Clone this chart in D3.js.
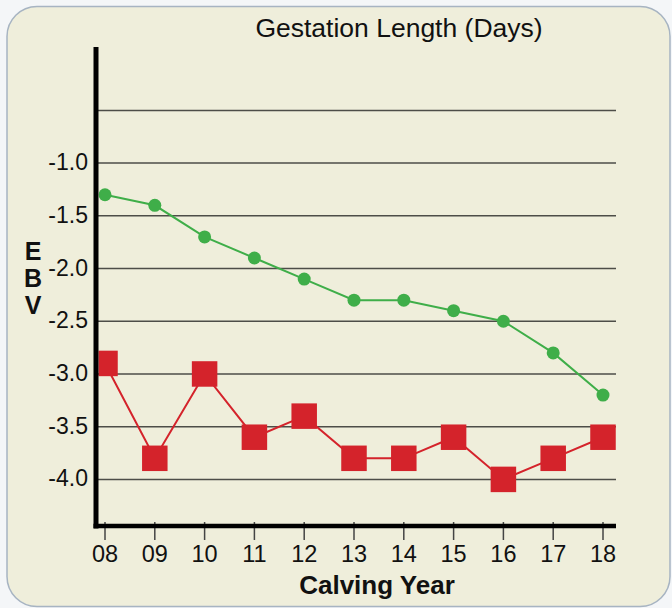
<!DOCTYPE html>
<html>
<head>
<meta charset="utf-8">
<script src="https://d3js.org/d3.v7.min.js"></script>
<style>
	html, body { margin: 0; padding: 0; background: #f4f6f8; }
	svg { display: block; }
	text { font-family: "Liberation Sans", Arial, sans-serif; fill: #111; }
</style>
</head>
<body>
<svg class="canvas" width="672" height="608"></svg>
<script>
var years = ['08', '09', '10', '11', '12', '13', '14', '15', '16', '17', '18'];
var green_values = [-1.3, -1.4, -1.7, -1.9, -2.1, -2.3, -2.3, -2.4, -2.5, -2.8, -3.2];
var red_values = [-2.9, -3.8, -3.0, -3.6, -3.4, -3.8, -3.8, -3.6, -4.0, -3.8, -3.6];
var grid_values = [-0.5, -1.0, -1.5, -2.0, -2.5, -3.0, -3.5, -4.0];
var label_values = [-1.0, -1.5, -2.0, -2.5, -3.0, -3.5, -4.0];

var svg = d3.select('.canvas');

var x = d3.scalePoint().domain(years).range([105, 603]);
var y = d3.scaleLinear().domain([0, -4.5]).range([57.7, 532.1]);

var axis_left = 96, axis_bottom = 526, grid_right = 616;

// clip marks at the y axis
svg.append('defs').append('clipPath')
	.attr('id', 'plot-clip')
	.append('rect')
	.attr('x', axis_left + 2.5).attr('y', 40)
	.attr('width', 560).attr('height', 500);

// PANEL
svg.append('rect')
	.attr('x', 7).attr('y', 6.5)
	.attr('width', 663).attr('height', 600)
	.attr('rx', 30).attr('ry', 30)
	.attr('fill', '#efeedb')
	.attr('stroke', '#a7b4c2')
	.attr('stroke-width', 1.5);

// TITLE
svg.append('text')
	.attr('x', 399).attr('y', 37)
	.attr('text-anchor', 'middle')
	.style('font-size', '26.5px')
	.text('Gestation Length (Days)');

// GRID
svg.append('g').selectAll('line')
	.data(grid_values)
	.enter().append('line')
	.attr('x1', axis_left).attr('x2', grid_right)
	.attr('y1', function(d){ return y(d); })
	.attr('y2', function(d){ return y(d); })
	.attr('stroke', '#4d4d48')
	.attr('stroke-width', 1.5);

// Y LABELS
svg.append('g').selectAll('text')
	.data(label_values)
	.enter().append('text')
	.attr('x', 88)
	.attr('y', function(d){ return y(d) + 7; })
	.attr('text-anchor', 'end')
	.style('font-size', '23px')
	.text(function(d){ return d3.format('.1f')(d).replace('−', '-'); });

// EBV
svg.append('g').selectAll('text')
	.data(['E', 'B', 'V'])
	.enter().append('text')
	.attr('x', 33)
	.attr('y', function(d, i){ return 260 + i * 27; })
	.attr('text-anchor', 'middle')
	.style('font-size', '25px')
	.style('font-weight', 'bold')
	.text(function(d){ return d; });

// X TICKS + LABELS
var xticks = svg.append('g').selectAll('g')
	.data(years)
	.enter().append('g')
	.attr('transform', function(d){ return 'translate(' + x(d) + ',0)'; });

xticks.append('line')
	.attr('y1', 522).attr('y2', 540)
	.attr('stroke', '#444')
	.attr('stroke-width', 1.5);

xticks.append('text')
	.attr('y', 562)
	.attr('text-anchor', 'middle')
	.style('font-size', '23.5px')
	.text(function(d){ return d; });

svg.append('text')
	.attr('x', 377).attr('y', 594)
	.attr('text-anchor', 'middle')
	.style('font-size', '26px')
	.style('font-weight', 'bold')
	.text('Calving Year');

var marks = svg.append('g').attr('clip-path', 'url(#plot-clip)');

// GREEN SERIES
var line = d3.line()
	.x(function(d, i){ return x(years[i]); })
	.y(function(d){ return y(d); });

marks.append('path')
	.datum(green_values)
	.attr('d', line)
	.attr('fill', 'none')
	.attr('stroke', '#3fae49')
	.attr('stroke-width', 2);

marks.append('g').selectAll('circle')
	.data(green_values)
	.enter().append('circle')
	.attr('cx', function(d, i){ return x(years[i]); })
	.attr('cy', function(d){ return y(d); })
	.attr('r', 6.5)
	.attr('fill', '#3fae49');

// RED SERIES
marks.append('path')
	.datum(red_values)
	.attr('d', line)
	.attr('fill', 'none')
	.attr('stroke', '#d4232b')
	.attr('stroke-width', 2);

var sq = 25.5;
marks.append('g').selectAll('rect')
	.data(red_values)
	.enter().append('rect')
	.attr('x', function(d, i){ return x(years[i]) - sq / 2; })
	.attr('y', function(d){ return y(d) - sq / 2; })
	.attr('width', sq).attr('height', sq)
	.attr('fill', '#d4232b');

// AXES
svg.append('line')
	.attr('x1', axis_left).attr('x2', axis_left)
	.attr('y1', 47).attr('y2', axis_bottom + 2.5)
	.attr('stroke', '#000')
	.attr('stroke-width', 5);

svg.append('line')
	.attr('x1', axis_left - 2.5).attr('x2', grid_right)
	.attr('y1', axis_bottom).attr('y2', axis_bottom)
	.attr('stroke', '#000')
	.attr('stroke-width', 4.5);
</script>
</body>
</html>
